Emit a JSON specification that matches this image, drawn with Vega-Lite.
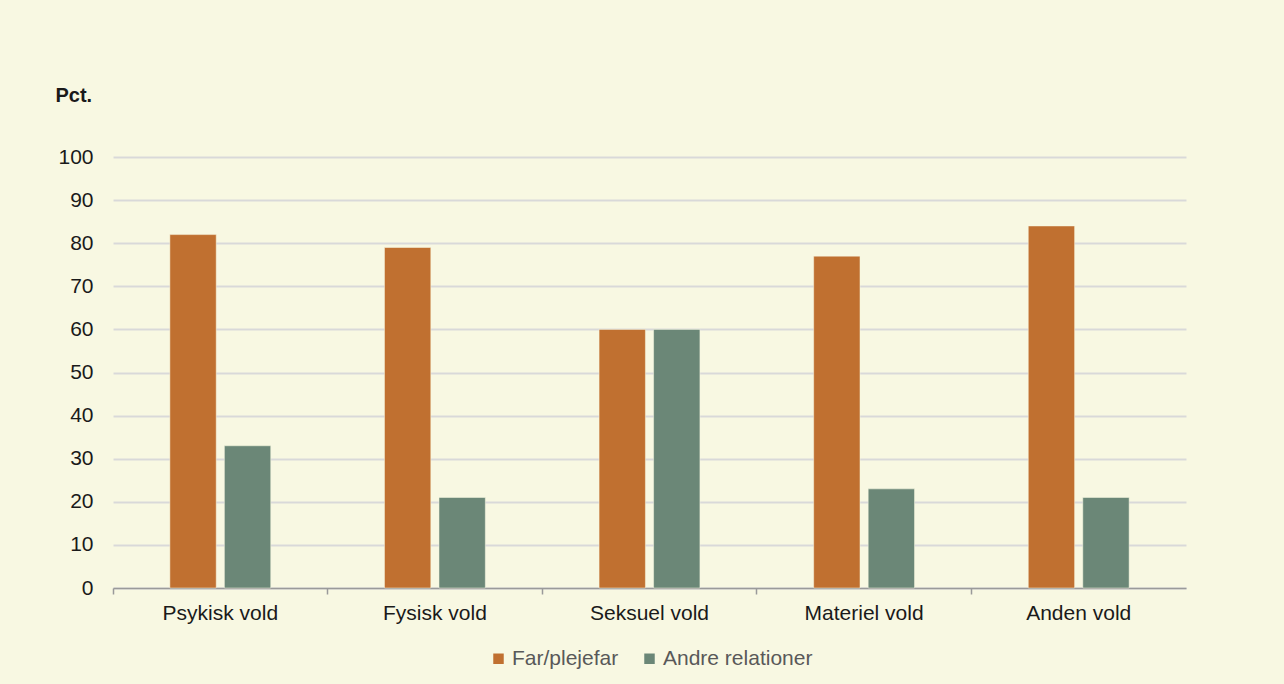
{
  "$schema": "https://vega.github.io/schema/vega-lite/v6.json",
  "autosize": {"type": "none"},
  "width": 1073,
  "height": 431,
  "padding": {"left": 113, "top": 157, "right": 98, "bottom": 96},
  "background": "#F8F8E2",
  "config": {
    "font": "Liberation Sans",
    "view": {"stroke": null},
    "axis": {"labelFont": "Liberation Sans", "titleFont": "Liberation Sans"}
  },
  "data": {
    "values": [
      {"cat": "Psykisk vold", "grp": "Far/plejefar", "v": 82},
      {"cat": "Psykisk vold", "grp": "Andre relationer", "v": 33},
      {"cat": "Fysisk vold", "grp": "Far/plejefar", "v": 79},
      {"cat": "Fysisk vold", "grp": "Andre relationer", "v": 21},
      {"cat": "Seksuel vold", "grp": "Far/plejefar", "v": 60},
      {"cat": "Seksuel vold", "grp": "Andre relationer", "v": 60},
      {"cat": "Materiel vold", "grp": "Far/plejefar", "v": 77},
      {"cat": "Materiel vold", "grp": "Andre relationer", "v": 23},
      {"cat": "Anden vold", "grp": "Far/plejefar", "v": 84},
      {"cat": "Anden vold", "grp": "Andre relationer", "v": 21}
    ]
  },
  "mark": {"type": "bar", "stroke": "#F8F8E2", "strokeWidth": 0.5},
  "encoding": {
    "x": {
      "field": "cat",
      "type": "nominal",
      "sort": null,
      "scale": {"paddingInner": 0.53, "paddingOuter": 0.265},
      "axis": {
        "title": null,
        "labelAngle": 0,
        "labelFontSize": 21,
        "labelColor": "#1a1a1a",
        "labelPadding": 8,
        "domainColor": "#9a9a9a",
        "domainWidth": 1.5,
        "tickColor": "#9a9a9a",
        "tickWidth": 1.5,
        "tickSize": 6,
        "bandPosition": -0.5638
      }
    },
    "xOffset": {
      "field": "grp",
      "type": "nominal",
      "sort": ["Far/plejefar", "Andre relationer"],
      "scale": {"paddingInner": 0.15}
    },
    "y": {
      "field": "v",
      "type": "quantitative",
      "scale": {"domain": [0, 100]},
      "axis": {
        "values": [0, 10, 20, 30, 40, 50, 60, 70, 80, 90, 100],
        "title": "Pct.",
        "titleAngle": 0,
        "titleAlign": "left",
        "titleBaseline": "alphabetic",
        "titleX": -58,
        "titleY": -56,
        "titleFontSize": 20,
        "titleFontWeight": "bold",
        "titleColor": "#1a1a1a",
        "labelFontSize": 21,
        "labelColor": "#1a1a1a",
        "labelPadding": 20,
        "domain": false,
        "ticks": false,
        "gridColor": "#D9D9D9",
        "gridWidth": 2
      }
    },
    "color": {
      "field": "grp",
      "type": "nominal",
      "sort": ["Far/plejefar", "Andre relationer"],
      "scale": {"domain": ["Far/plejefar", "Andre relationer"], "range": ["#C07030", "#6B8777"]},
      "legend": {
        "title": null,
        "orient": "none",
        "direction": "horizontal",
        "legendX": 375,
        "legendY": 491,
        "symbolType": "square",
        "symbolSize": 110,
        "symbolStrokeWidth": 0,
        "labelFontSize": 21,
        "labelColor": "#595959",
        "labelOffset": 3,
        "columnPadding": 20
      }
    }
  }
}
